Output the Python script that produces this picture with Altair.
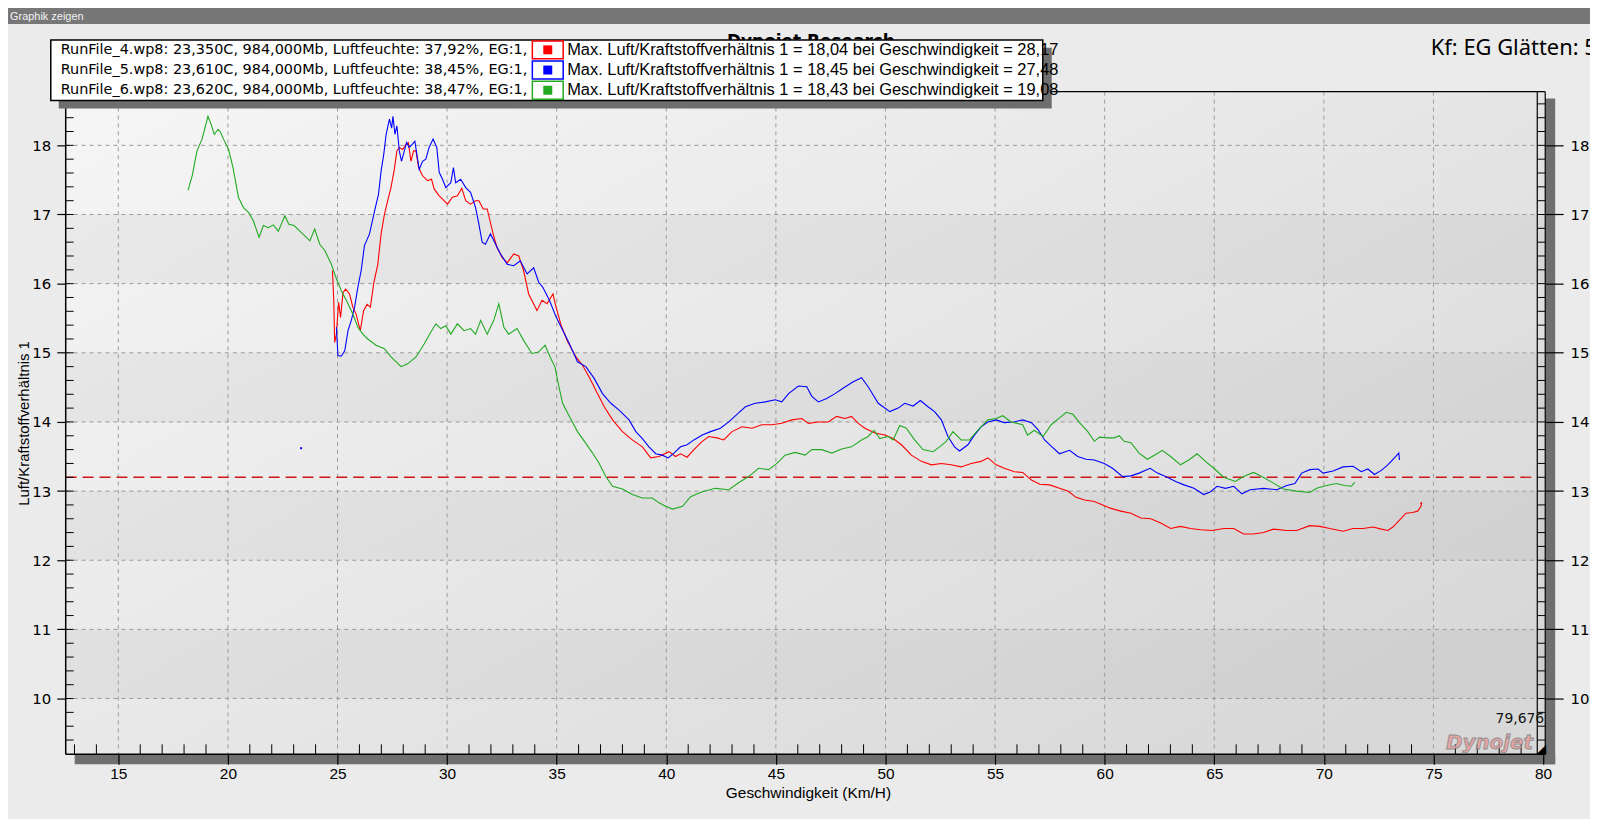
import altair as alt
import pandas as pd

# ---------------- data ----------------
runs = ["RunFile_4.wp8", "RunFile_5.wp8", "RunFile_6.wp8"]
temps = ["23,350", "23,610", "23,620"]
pressure = "984,000"
humid = ["37,92", "38,45", "38,47"]
max_afr = ["18,04", "18,45", "18,43"]
max_speed = ["28,17", "27,48", "19,08"]
colors = ["#ff0000", "#0000ff", "#22aa22"]

red_x = [24.77, 24.83, 24.87, 24.95, 25.05, 25.14, 25.25, 25.37, 25.55, 25.70, 25.85, 26.04, 26.19, 26.35, 26.50,
         26.66, 26.84, 26.99, 27.14, 27.29, 27.44, 27.59, 27.71, 27.82, 27.97, 28.12, 28.23, 28.35, 28.47, 28.58,
         28.70, 28.88, 29.11, 29.29, 29.41, 29.64, 29.86, 30.02, 30.24, 30.47, 30.67, 30.85, 31.07, 31.30, 31.45,
         31.65, 31.83, 31.98, 32.10, 32.28, 32.51, 32.74, 33.04, 33.27, 33.49, 33.72, 34.10, 34.33, 34.56, 34.83,
         34.97, 35.20, 35.50, 35.88, 36.18, 36.48, 36.86, 37.17, 37.55, 38.00, 38.45, 38.91, 39.29, 39.67, 40.12,
         40.42, 40.65, 40.95, 41.26, 41.64, 41.94, 42.32, 42.62, 43.00, 43.45, 43.91, 44.36, 44.82, 45.27, 45.73,
         46.18, 46.48, 46.94, 47.39, 47.77, 48.15, 48.45, 48.76, 49.06, 49.52, 49.97, 50.35, 50.73, 51.18, 51.64,
         52.09, 52.55, 53.00, 53.45, 53.91, 54.36, 54.67, 55.05, 55.42, 55.88, 56.26, 56.66, 57.04, 57.49, 57.94,
         58.32, 58.70, 59.08, 59.53, 59.91, 60.29, 60.74, 61.20, 61.65, 62.10, 62.56, 63.01, 63.46, 63.92, 64.37,
         64.90, 65.43, 65.89, 66.34, 66.79, 67.25, 67.70, 68.31, 68.76, 69.36, 69.82, 70.27, 70.88, 71.33, 71.79,
         72.25, 72.62, 72.92, 73.15, 73.45, 73.75, 74.05, 74.28, 74.43, 74.46, 74.40]
red_y = [16.19, 15.75, 15.15, 15.27, 15.73, 15.51, 15.87, 15.92, 15.85, 15.66, 15.56, 15.32, 15.61, 15.70, 15.66,
         16.02, 16.28, 16.72, 17.00, 17.20, 17.39, 17.65, 17.92, 17.97, 17.94, 18.01, 18.04, 17.77, 17.92, 17.92,
         17.68, 17.56, 17.49, 17.51, 17.37, 17.27, 17.20, 17.15, 17.25, 17.27, 17.38, 17.20, 17.15, 17.20, 17.20,
         17.08, 17.08, 16.88, 16.72, 16.52, 16.38, 16.30, 16.43, 16.40, 16.19, 15.85, 15.61, 15.76, 15.71, 15.85,
         15.66, 15.40, 15.16, 14.94, 14.82, 14.65, 14.41, 14.22, 14.03, 13.86, 13.74, 13.64, 13.48, 13.50, 13.57,
         13.50, 13.54, 13.49, 13.60, 13.72, 13.79, 13.77, 13.74, 13.86, 13.93, 13.91, 13.96, 13.96, 13.98, 14.03,
         14.05, 13.98, 14.00, 14.00, 14.08, 14.05, 14.08, 13.98, 13.91, 13.84, 13.81, 13.76, 13.67, 13.52, 13.43,
         13.38, 13.40, 13.38, 13.35, 13.40, 13.43, 13.48, 13.38, 13.33, 13.28, 13.27, 13.16, 13.10, 13.09, 13.04,
         13.00, 12.91, 12.87, 12.85, 12.80, 12.75, 12.71, 12.68, 12.61, 12.60, 12.54, 12.46, 12.49, 12.46, 12.44,
         12.43, 12.46, 12.46, 12.38, 12.38, 12.40, 12.45, 12.43, 12.43, 12.50, 12.49, 12.46, 12.42, 12.46, 12.46,
         12.48, 12.45, 12.43, 12.48, 12.58, 12.68, 12.69, 12.71, 12.78, 12.83, 12.82]

blue_x = [24.95, 25.02, 25.17, 25.33, 25.48, 25.63, 25.78, 25.93, 26.08, 26.23, 26.46, 26.69, 26.87, 26.99, 27.11,
          27.22, 27.37, 27.47, 27.53, 27.62, 27.71, 27.82, 27.92, 28.05, 28.15, 28.27, 28.40, 28.53, 28.62, 28.73,
          28.88, 29.03, 29.18, 29.36, 29.53, 29.64, 29.79, 29.94, 30.17, 30.29, 30.39, 30.62, 30.85, 31.07, 31.30,
          31.45, 31.60, 31.75, 31.98, 32.21, 32.44, 32.74, 33.04, 33.34, 33.65, 33.95, 34.18, 34.36, 34.67, 34.97,
          35.27, 35.58, 35.95, 36.33, 36.71, 37.09, 37.47, 37.85, 38.30, 38.61, 38.91, 39.21, 39.52, 39.82, 40.09,
          40.35, 40.65, 40.95, 41.26, 41.64, 42.02, 42.47, 42.85, 43.30, 43.61, 44.06, 44.52, 44.97, 45.27, 45.58,
          46.03, 46.41, 46.64, 46.94, 47.32, 47.70, 48.08, 48.53, 48.91, 49.21, 49.67, 50.20, 50.58, 50.88, 51.26,
          51.59, 51.94, 52.24, 52.55, 52.85, 53.15, 53.38, 53.76, 54.06, 54.36, 54.67, 55.05, 55.42, 55.88, 56.26,
          56.66, 56.96, 57.26, 57.56, 57.94, 58.40, 58.77, 59.15, 59.53, 59.98, 60.36, 60.82, 61.20, 61.57, 62.07,
          62.41, 62.86, 63.24, 63.62, 64.07, 64.52, 64.83, 65.13, 65.51, 65.89, 66.26, 66.64, 67.25, 67.85, 68.31,
          68.68, 68.99, 69.36, 69.74, 69.97, 70.42, 70.88, 71.33, 71.71, 72.01, 72.31, 72.62, 72.92, 73.22, 73.42,
          73.45]
blue_y = [15.37, 14.96, 14.95, 15.03, 15.32, 15.47, 15.66, 15.95, 16.19, 16.55, 16.72, 17.05, 17.29, 17.63, 17.87,
          18.16, 18.38, 18.25, 18.42, 18.16, 18.28, 17.92, 17.77, 17.92, 18.04, 17.97, 18.01, 18.06, 17.87, 17.65,
          17.77, 17.80, 17.97, 18.09, 17.97, 17.61, 17.51, 17.39, 17.46, 17.68, 17.46, 17.51, 17.39, 17.32, 17.10,
          16.86, 16.60, 16.57, 16.72, 16.57, 16.43, 16.28, 16.26, 16.33, 16.14, 16.23, 16.02, 15.95, 15.76, 15.52,
          15.33, 15.13, 14.87, 14.80, 14.63, 14.41, 14.27, 14.17, 14.03, 13.86, 13.76, 13.64, 13.54, 13.52, 13.48,
          13.55, 13.64, 13.67, 13.74, 13.81, 13.86, 13.91, 14.00, 14.13, 14.22, 14.27, 14.29, 14.32, 14.29, 14.41,
          14.52, 14.51, 14.37, 14.29, 14.34, 14.41, 14.49, 14.58, 14.64, 14.51, 14.27, 14.15, 14.20, 14.27, 14.23,
          14.31, 14.22, 14.15, 14.03, 13.79, 13.64, 13.58, 13.67, 13.81, 13.93, 14.00, 14.03, 13.99, 14.00, 14.03,
          13.99, 13.89, 13.74, 13.65, 13.54, 13.59, 13.50, 13.46, 13.45, 13.40, 13.33, 13.21, 13.22, 13.26, 13.33,
          13.26, 13.20, 13.14, 13.09, 13.04, 12.95, 12.99, 13.07, 13.04, 13.07, 12.96, 13.02, 13.04, 13.02, 13.08,
          13.11, 13.26, 13.31, 13.32, 13.26, 13.29, 13.35, 13.36, 13.28, 13.32, 13.24, 13.30, 13.38, 13.48, 13.55,
          13.45]
blue_stray_x = [23.34]
blue_stray_y = [13.62]

green_x = [18.18, 18.37, 18.59, 18.82, 19.09, 19.24, 19.38, 19.55, 19.65, 19.80, 20.03, 20.23, 20.48, 20.71, 20.94,
           21.16, 21.42, 21.62, 21.85, 22.07, 22.30, 22.60, 22.78, 23.02, 23.28, 23.51, 23.74, 23.96, 24.19, 24.42,
           24.72, 24.95, 25.17, 25.48, 25.70, 25.93, 26.16, 26.38, 26.76, 27.14, 27.44, 27.90, 28.20, 28.58, 28.96,
           29.26, 29.49, 29.71, 29.94, 30.17, 30.47, 30.77, 31.07, 31.30, 31.53, 31.83, 32.13, 32.36, 32.59, 32.81,
           33.19, 33.49, 33.87, 34.17, 34.47, 34.70, 34.93, 35.04, 35.27, 35.58, 35.95, 36.33, 36.64, 36.94, 37.24,
           37.55, 38.00, 38.45, 38.91, 39.36, 39.67, 39.97, 40.29, 40.74, 41.11, 41.64, 42.24, 42.85, 43.30, 43.76,
           44.21, 44.67, 45.05, 45.42, 45.88, 46.33, 46.64, 47.09, 47.55, 48.00, 48.45, 48.91, 49.21, 49.48, 49.74,
           50.12, 50.35, 50.65, 50.95, 51.33, 51.71, 52.17, 52.47, 52.77, 53.08, 53.45, 53.83, 54.21, 54.67, 55.05,
           55.35, 55.73, 56.26, 56.48, 56.79, 57.19, 57.56, 57.94, 58.25, 58.55, 58.85, 59.23, 59.53, 59.76, 60.14,
           60.44, 60.67, 60.89, 61.20, 61.57, 61.95, 62.33, 62.63, 63.01, 63.46, 63.84, 64.22, 64.60, 64.98, 65.43,
           65.96, 66.34, 66.79, 67.17, 67.62, 68.15, 68.76, 69.36, 69.67, 70.12, 70.57, 70.95, 71.26, 71.41]
green_y = [17.35, 17.56, 17.92, 18.09, 18.42, 18.30, 18.16, 18.23, 18.20, 18.09, 17.94, 17.68, 17.25, 17.10, 17.03,
           16.91, 16.67, 16.84, 16.81, 16.85, 16.76, 16.98, 16.86, 16.84, 16.76, 16.69, 16.62, 16.79, 16.57, 16.48,
           16.28, 16.07, 15.90, 15.71, 15.56, 15.37, 15.27, 15.20, 15.11, 15.06, 14.94, 14.80, 14.84, 14.94, 15.13,
           15.30, 15.42, 15.35, 15.39, 15.27, 15.42, 15.32, 15.35, 15.27, 15.47, 15.27, 15.47, 15.71, 15.37, 15.27,
           15.35, 15.18, 14.99, 15.01, 15.11, 14.94, 14.79, 14.60, 14.27, 14.08, 13.86, 13.69, 13.55, 13.40, 13.21,
           13.07, 13.03, 12.95, 12.90, 12.90, 12.83, 12.78, 12.74, 12.78, 12.92, 12.99, 13.04, 13.02, 13.12, 13.21,
           13.33, 13.31, 13.40, 13.52, 13.56, 13.52, 13.60, 13.60, 13.55, 13.61, 13.64, 13.74, 13.79, 13.88, 13.76,
           13.79, 13.74, 13.95, 13.91, 13.74, 13.60, 13.57, 13.64, 13.72, 13.86, 13.74, 13.74, 13.88, 14.03, 14.05,
           14.09, 14.00, 13.96, 13.81, 13.88, 13.79, 13.96, 14.06, 14.14, 14.11, 13.99, 13.86, 13.72, 13.78, 13.77,
           13.77, 13.80, 13.72, 13.70, 13.55, 13.46, 13.53, 13.59, 13.50, 13.38, 13.45, 13.54, 13.43, 13.33, 13.20,
           13.14, 13.21, 13.27, 13.21, 13.13, 13.03, 13.00, 12.98, 13.04, 13.08, 13.11, 13.08, 13.07, 13.13]

ref_afr = [13.2]
x_major = [15, 20, 25, 30, 35, 40, 45, 50, 55, 60, 65, 70, 75, 80]
x_grid = [15, 20, 25, 30, 35, 40, 45, 50, 55, 60, 65, 70, 75]
x_minor = [v for v in range(13, 80) if v % 5 != 0]
y_major = [10, 11, 12, 13, 14, 15, 16, 17, 18]
y_minor = [round(9.4 + 0.2 * k, 1) for k in range(47)]
band_lo = [10, 12, 14, 16]
band_hi = [11, 13, 15, 17]

# ---------------- layout ----------------
W, H = 1487, 666
xs = alt.Scale(domain=[12.6, 80.1], nice=False, zero=False)
ys = alt.Scale(domain=[9.194, 18.777], nice=False, zero=False)
one = pd.DataFrame({"a": [0]})
LAB = "DejaVu Sans"
NARROW = "Liberation Sans Narrow, Liberation Sans, Arial"

frames = []
for name, xv, yv in [(runs[0], red_x, red_y), (runs[1], blue_x, blue_y), (runs[2], green_x, green_y)]:
    frames.append(pd.DataFrame({"x": xv, "y": yv, "run": name, "i": range(len(xv))}))
lines_df = pd.concat(frames, ignore_index=True)


def V(v):
    return alt.value(v)


layers = []

# plot background with gradient (lighter at the left, darker towards the lower right)
layers.append(alt.Chart(one).mark_rect(
    fill=alt.LinearGradient(gradient="linear",
                            stops=[alt.GradientStop(color="#f6f6f6", offset=0),
                                   alt.GradientStop(color="#e8e8e8", offset=0.5),
                                   alt.GradientStop(color="#d8d8d8", offset=1)],
                            x1=0, y1=0, x2=1, y2=0.8)
).encode(x=V(0), x2=V(W), y=V(0), y2=V(H)))

# alternating bands
layers.append(alt.Chart(pd.DataFrame({"lo": band_lo, "hi": band_hi})).mark_rect(
    fill="#000000", opacity=0.04).encode(
    x=V(0), x2=V(W), y=alt.Y("lo:Q", scale=ys, axis=None), y2="hi:Q"))

# grid lines
layers.append(alt.Chart(pd.DataFrame({"gx": x_grid})).mark_rule(
    color="#9a9a9a", strokeDash=[4, 4], strokeWidth=1).encode(
    x=alt.X("gx:Q", scale=xs, axis=None), y=V(0), y2=V(H)))
layers.append(alt.Chart(pd.DataFrame({"gy": y_major})).mark_rule(
    color="#9a9a9a", strokeDash=[4, 4], strokeWidth=1).encode(
    y=alt.Y("gy:Q", scale=ys, axis=None), x=V(0), x2=V(W - 8)))

# reference AFR line
layers.append(alt.Chart(pd.DataFrame({"r": ref_afr})).mark_rule(
    color="#d01515", strokeDash=[11, 6], strokeWidth=1.3).encode(
    y=alt.Y("r:Q", scale=ys, axis=None), x=V(0), x2=V(W - 8)))

# curves
layers.append(alt.Chart(lines_df).mark_line(strokeWidth=1.1).encode(
    x=alt.X("x:Q", scale=xs, axis=None),
    y=alt.Y("y:Q", scale=ys, axis=None),
    color=alt.Color("run:N", scale=alt.Scale(domain=runs, range=colors), legend=None),
    order="i:Q"))
layers.append(alt.Chart(pd.DataFrame({"x": blue_stray_x, "y": blue_stray_y})).mark_square(
    size=4, color=colors[1], opacity=1).encode(
    x=alt.X("x:Q", scale=xs, axis=None), y=alt.Y("y:Q", scale=ys, axis=None)))

# 3D shadows
layers.append(alt.Chart(one).mark_rect(fill="#6f6f6f").encode(x=V(9), x2=V(W + 10), y=V(H), y2=V(H + 10)))
layers.append(alt.Chart(one).mark_rect(fill="#6f6f6f").encode(x=V(W), x2=V(W + 10), y=V(7), y2=V(H + 10)))

# minor ticks
layers.append(alt.Chart(pd.DataFrame({"m": y_minor})).mark_rule(color="#000", strokeWidth=1).encode(
    y=alt.Y("m:Q", scale=ys, axis=None), x=V(0), x2=V(8)))
layers.append(alt.Chart(pd.DataFrame({"m": y_minor})).mark_rule(color="#000", strokeWidth=1).encode(
    y=alt.Y("m:Q", scale=ys, axis=None), x=V(W - 8), x2=V(W)))
layers.append(alt.Chart(pd.DataFrame({"m": x_minor})).mark_rule(color="#000", strokeWidth=1).encode(
    x=alt.X("m:Q", scale=xs, axis=None), y=V(H - 10), y2=V(H)))

# frame
layers.append(alt.Chart(one).mark_rule(color="#000", strokeWidth=1.5).encode(x=V(0), y=V(0), y2=V(H)))
layers.append(alt.Chart(one).mark_rule(color="#000", strokeWidth=1.2).encode(x=V(0), x2=V(W), y=V(0)))
layers.append(alt.Chart(one).mark_rule(color="#000", strokeWidth=1.6).encode(x=V(0), x2=V(W), y=V(H)))
layers.append(alt.Chart(one).mark_rule(color="#000", strokeWidth=1.2).encode(x=V(W - 8), y=V(0), y2=V(H)))
layers.append(alt.Chart(one).mark_rule(color="#000", strokeWidth=1.2).encode(x=V(W), y=V(0), y2=V(H)))

# axes (carried by invisible marks)
layers.append(alt.Chart(pd.DataFrame({"v": y_major})).mark_point(opacity=0).encode(
    y=alt.Y("v:Q", scale=ys, axis=alt.Axis(
        orient="left", values=y_major, format="d", domain=False, grid=False, tickSize=9,
        tickColor="#000", tickWidth=1.2, labelFont=LAB, labelFontSize=15, labelColor="#000",
        labelPadding=6, labelFlush=False, zindex=1,
        title="Luft/Kraftstoffverhältnis 1", titleFont=NARROW, titleFontSize=15,
        titleFontWeight="normal", titleColor="#000", titleX=-42, titleY=H / 2,
        titleAngle=270, titleAlign="center", titleBaseline="middle"))))
layers.append(alt.Chart(pd.DataFrame({"v": y_major})).mark_point(opacity=0).encode(
    y=alt.Y("v:Q", scale=ys, axis=alt.Axis(
        orient="right", values=y_major, format="d", domain=False, grid=False, tickSize=18,
        tickColor="#000", tickWidth=1.2, labelFont=LAB, labelFontSize=15, labelColor="#000",
        labelPadding=7, labelFlush=False, zindex=1, title=None))))
layers.append(alt.Chart(pd.DataFrame({"v": x_major})).mark_point(opacity=0).encode(
    x=alt.X("v:Q", scale=xs, axis=alt.Axis(
        orient="bottom", values=x_major, format="d", domain=False, grid=False, tickSize=10,
        tickColor="#000", tickWidth=1.2, labelFont=NARROW, labelFontSize=15.5, labelColor="#000",
        labelPadding=2, labelFlush=False, zindex=1,
        title="Geschwindigkeit (Km/H)", titleFont=NARROW, titleFontSize=15.5,
        titleFontWeight="normal", titleColor="#000", titleX=746, titleY=38,
        titleAlign="center", titleBaseline="middle"))))

# corner decorations
layers.append(alt.Chart(one).mark_text(
    text="Dynojet", font=LAB, fontStyle="italic", fontWeight="bold", fontSize=20,
    fill="#e69c9c", stroke="#808080", strokeWidth=0.8, opacity=0.85, align="center",
    baseline="middle").encode(x=V(1431), y=V(655)))
layers.append(alt.Chart(one).mark_text(
    text="79,676", font=LAB, fontSize=14, color="#111", align="right",
    baseline="middle").encode(x=V(W - 1), y=V(631)))
layers.append(alt.Chart(one).mark_text(
    text="◢", font=LAB, fontSize=13, color="#000", align="right",
    baseline="bottom").encode(x=V(W + 1), y=V(H + 2)))

# window title bar
layers.append(alt.Chart(one).mark_rect(fill="#777777").encode(x=V(-60), x2=V(W + 60), y=V(-84), y2=V(-68)))
layers.append(alt.Chart(one).mark_text(
    text="Graphik zeigen", font="Liberation Sans, Arial", fontSize=11, color="#f2f2f2",
    align="left", baseline="middle").encode(x=V(-56), y=V(-75)))

# chart title, mostly hidden behind the legend
layers.append(alt.Chart(one).mark_text(
    text="Dynojet Research", font=LAB, fontWeight="bold", fontSize=17, color="#000",
    align="center", baseline="top").encode(x=V(749), y=V(-58)))

# legend box
layers.append(alt.Chart(one).mark_rect(fill="#6e6e6e").encode(x=V(-7), x2=V(991), y=V(-44), y2=V(17)))
layers.append(alt.Chart(one).mark_rect(fill="#ffffff", stroke="#000", strokeWidth=1.5).encode(
    x=V(-15), x2=V(982), y=V(-52), y2=V(9)))
for k in range(3):
    yc = -42 + 20.3 * k
    layers.append(alt.Chart(one).mark_text(
        text=f"{runs[k]}: {temps[k]}C, {pressure}Mb, Luftfeuchte: {humid[k]}%, EG:1,",
        font=LAB, fontSize=14.5, color="#000", align="left", baseline="middle").encode(
        x=V(-5), y=V(yc)))
    layers.append(alt.Chart(one).mark_rect(fill="#ffffff", stroke=colors[k], strokeWidth=1.5).encode(
        x=V(469), x2=V(500), y=V(yc - 9), y2=V(yc + 9)))
    layers.append(alt.Chart(one).mark_rect(fill=colors[k]).encode(
        x=V(480), x2=V(489), y=V(yc - 4.5), y2=V(yc + 4.5)))
    layers.append(alt.Chart(one).mark_text(
        text=f"Max. Luft/Kraftstoffverhältnis 1 = {max_afr[k]} bei Geschwindigkeit = {max_speed[k]}",
        font=NARROW, fontSize=16.5, color="#000", align="left", baseline="middle").encode(
        x=V(504), y=V(yc)))

layers.append(alt.Chart(one).mark_text(
    text="Kf: EG Glätten: 5", font="Noto Sans, Open Sans", fontSize=22, color="#000",
    align="left", baseline="middle").encode(x=V(1372), y=V(-44)))

chart = alt.layer(*layers).resolve_axis(x="independent", y="independent").properties(
    width=W, height=H,
    padding={"left": 58, "top": 82, "right": 45, "bottom": 63},
    autosize=alt.AutoSizeParams(type="none"),
).configure(background="#ebebeb").configure_view(stroke=None)

chart.save("out.html", embed_options={"renderer": "svg", "actions": False})
